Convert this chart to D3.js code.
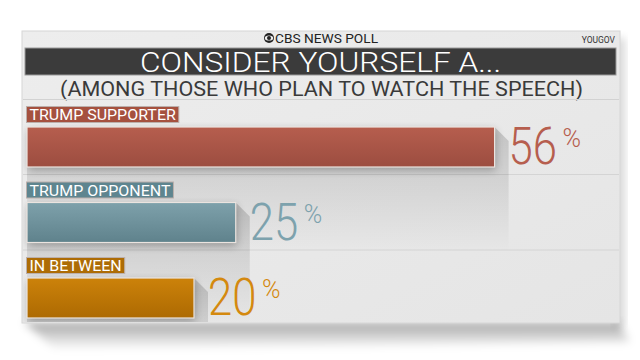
<!DOCTYPE html>
<html>
<head>
<meta charset="utf-8">
<script src="https://cdn.jsdelivr.net/npm/d3@7"></script>
<style>
  body { margin: 0; background: #fff; }
  svg { display: block; }
  text { font-family: Roboto, "DejaVu Sans", sans-serif; }
</style>
</head>
<body>
<div id="chart"></div>
<script>
var width = 640, height = 360;

// data
var categories = ["TRUMP SUPPORTER", "TRUMP OPPONENT", "IN BETWEEN"];
var values = [56, 25, 20];
var barColors = [["#b65e4e", "#9c4d40"], ["#7ea1ab", "#5f828c"], ["#cc820a", "#ad6a02"]];
var tagColors = ["#a5513f", "#5e858f", "#ad6c05"];
var numColors = ["#b65e4e", "#7da2ad", "#d4890f"];

var svg = d3.select("#chart")
.append("svg")
.attr("width", width)
.attr("height", height);

var defs = svg.append("defs");

defs.append("filter").attr("id", "blur")
.attr("x", "-20%").attr("y", "-20%").attr("width", "140%").attr("height", "140%")
.append("feGaussianBlur").attr("stdDeviation", 4);

defs.append("clipPath").attr("id", "panelClip")
.append("rect").attr("x", 23).attr("y", 100).attr("width", 596).attr("height", 222);

barColors.forEach(function (c, i) {
    var g = defs.append("linearGradient").attr("id", "bar" + i)
    .attr("x1", 0).attr("y1", 0).attr("x2", 0).attr("y2", 1);
    g.append("stop").attr("offset", "0%").attr("stop-color", c[0]);
    g.append("stop").attr("offset", "100%").attr("stop-color", c[1]);
});

var sg = defs.append("linearGradient").attr("id", "castShadow")
.attr("x1", 0).attr("y1", 0).attr("x2", 0).attr("y2", 1);
sg.append("stop").attr("offset", "0%").attr("stop-color", "#000").attr("stop-opacity", 0.16);
sg.append("stop").attr("offset", "100%").attr("stop-color", "#000").attr("stop-opacity", 0);

var pg = defs.append("linearGradient").attr("id", "panelShadow")
.attr("x1", 0).attr("y1", 0).attr("x2", 0).attr("y2", 1);
pg.append("stop").attr("offset", "0%").attr("stop-color", "#000").attr("stop-opacity", 0.35);
pg.append("stop").attr("offset", "100%").attr("stop-color", "#000").attr("stop-opacity", 0);

var bg = defs.append("linearGradient").attr("id", "panelFill")
.attr("x1", 0).attr("y1", 0).attr("x2", 1).attr("y2", 1);
bg.append("stop").attr("offset", "0%").attr("stop-color", "#ededed");
bg.append("stop").attr("offset", "100%").attr("stop-color", "#e5e5e5");

// panel + its shadow
svg.append("path")
.attr("d", "M24,322 L618,322 L630,342 L56,350 Z")
.attr("fill", "url(#panelShadow)")
.attr("filter", "url(#blur)");
svg.append("rect")
.attr("x", 613).attr("y", 38).attr("width", 12).attr("height", 288)
.attr("fill", "#000").attr("opacity", 0.15)
.attr("filter", "url(#blur)");
svg.append("rect")
.attr("x", 22).attr("y", 31).attr("width", 598).attr("height", 292)
.attr("fill", "url(#panelFill)")
.attr("stroke", "#d6d6d6");

// header
var logo = svg.append("g").attr("transform", "translate(269,38)");
logo.append("circle").attr("r", 5).attr("fill", "#222");
logo.append("ellipse").attr("rx", 4.2).attr("ry", 2.6).attr("fill", "#ececec");
logo.append("circle").attr("r", 2).attr("fill", "#222");

svg.append("text")
.attr("x", 275).attr("y", 42.5)
.attr("font-size", 12.5).attr("fill", "#222")
.attr("textLength", 103).attr("lengthAdjust", "spacingAndGlyphs")
.text("CBS NEWS POLL");

svg.append("text")
.attr("x", 615).attr("y", 43)
.attr("text-anchor", "end")
.attr("font-size", 8.5).attr("fill", "#333")
.text("YOUGOV");

svg.append("rect")
.attr("x", 25).attr("y", 48).attr("width", 591).attr("height", 27)
.attr("fill", "#3b3b3b")
.attr("stroke", "#9a9a9a").attr("stroke-width", 1);

svg.append("text")
.attr("x", 140).attr("y", 72)
.attr("font-size", 28.5).attr("font-weight", 300).attr("fill", "#fff")
.attr("textLength", 361).attr("lengthAdjust", "spacingAndGlyphs")
.text("CONSIDER YOURSELF A...");

svg.append("text")
.attr("x", 60).attr("y", 96)
.attr("font-size", 21).attr("fill", "#3a3a3a")
.attr("textLength", 523).attr("lengthAdjust", "spacingAndGlyphs")
.text("(AMONG THOSE WHO PLAN TO WATCH THE SPEECH)");

svg.append("line")
.attr("x1", 23).attr("x2", 619).attr("y1", 99.5).attr("y2", 99.5)
.attr("stroke", "#d2d2d2");

// scales
var x = d3.scaleLinear()
.domain([0, 100])
.range([27, 862]);

var y = d3.scalePoint()
.domain(categories)
.range([106, 257]);

var rowsLayer = svg.append("g").attr("clip-path", "url(#panelClip)");

var rows = rowsLayer
.selectAll("g")
.data(categories)
.enter()
.append("g")
.attr("transform", function (d) { return "translate(0," + y(d) + ")"; });

// separators
rows.append("line")
.attr("x1", 23).attr("x2", 619)
.attr("y1", 68.5).attr("y2", 68.5)
.attr("stroke", function (d, i) { return i < 2 ? "#d4d4d4" : "none"; });

// cast shadow behind each bar
rows.append("path")
.attr("d", function (d, i) {
    var xe = x(values[i]);
    return "M" + xe + ",21 L" + (xe + 14) + ",35 L" + (xe + 14) + ",146 L" + x(0) + ",146 L" + x(0) + ",61 L" + xe + ",61 Z";
})
.attr("fill", "url(#castShadow)");

rows.append("rect")
.attr("x", x(0) + 1).attr("y", 24)
.attr("width", function (d, i) { return x(values[i]) - x(0); })
.attr("height", 40)
.attr("fill", "#000").attr("opacity", 0.28)
.attr("filter", "url(#blur)");

rows.append("rect")
.attr("x", x(0)).attr("y", 21)
.attr("width", function (d, i) { return x(values[i]) - x(0); })
.attr("height", 40)
.attr("fill", function (d, i) { return "url(#bar" + i + ")"; })
.attr("stroke", "#ebe4e0").attr("stroke-width", 1.2);

// category tags: boxes first, text on top
var tags = rows.append("rect")
.attr("x", 26.5).attr("y", 0.5)
.attr("height", 16)
.attr("fill", function (d, i) { return tagColors[i]; })
.attr("stroke", "#bcb0ac").attr("stroke-width", 1);

var tagText = rows.append("text")
.attr("x", 29.5).attr("y", 14)
.attr("font-size", 15.5).attr("fill", "#fff")
.text(function (d) { return d; });

tagText.each(function (d, i) {
    var w = this.getComputedTextLength() * 1.03;
    d3.select(this).attr("textLength", w).attr("lengthAdjust", "spacingAndGlyphs");
    d3.select(tags.nodes()[i]).attr("width", w + 6);
});

// value labels, narrowed with a scale so the box matches the glyphs
rows.append("text")
.attr("transform", function (d, i) { return "translate(" + (x(values[i]) + 14) + ",58) scale(0.84,1)"; })
.attr("font-size", 52).attr("font-weight", 300)
.attr("fill", function (d, i) { return numColors[i]; })
.text(function (d, i) { return values[i]; });

rows.append("text")
.attr("x", function (d, i) { return x(values[i]) + 68; })
.attr("y", 41)
.attr("font-size", 25).attr("font-weight", 300)
.attr("fill", function (d, i) { return numColors[i]; })
.text("%");
</script>
</body>
</html>
